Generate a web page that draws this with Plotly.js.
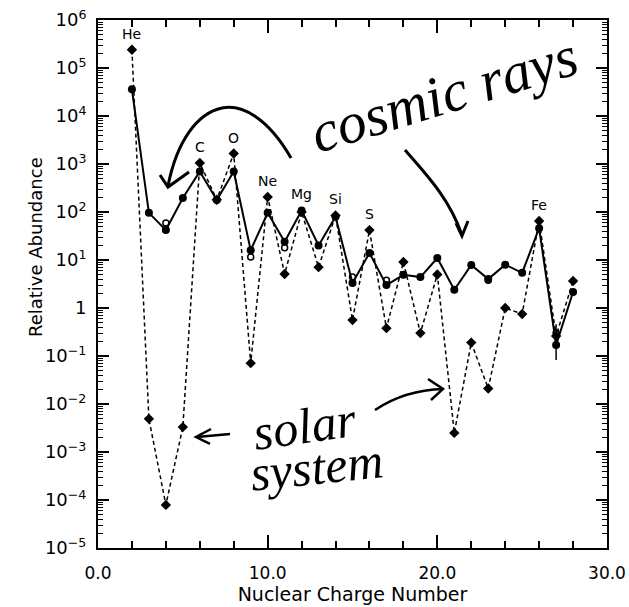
<!DOCTYPE html>
<html><head><meta charset="utf-8">
<script src="https://cdn.plot.ly/plotly-3.0.1.min.js"></script>
<style>html,body{margin:0;padding:0;background:#fff}</style>
</head><body>
<div id="chart" style="width:629px;height:607px"></div>
<script>
// ---- data ----
const charge      = [2,3,4,5,6,7,8,9,10,11,12,13,14,15,16,17,18,19,20,21,22,23,24,25,26,27,28];
const cosmicRays  = [3.6e4,96,42,195,700,178,700,16,96,24,108,20,80,3.3,14,3.0,4.9,4.4,11,2.4,7.9,4.0,8.0,5.4,46,0.17,2.15];
const solarSystem = [2.4e5,4.9e-3,7.9e-5,3.3e-3,1050,180,1650,0.071,206,5.1,100,7.1,85,0.56,42,0.38,9.1,0.30,5.0,2.5e-3,0.19,0.021,1.0,0.75,65,0.26,3.65];
const cosmicAltZ    = [4,9,11,15,17,23,27];
const cosmicAltVals = [59,11.5,18,4.4,3.8,3.8,0.3];
const errZ = [27], errVal = [0.17], errPlus = [0.29], errMinus = [0.087];
const elementNames = ['He','C','O','Ne','Mg','Si','S','Fe'];
const elementZ     = [2,6,8,10,12,14,16,26];
const yTickVals = [1e-5,1e-4,1e-3,1e-2,1e-1,1,1e1,1e2,1e3,1e4,1e5,1e6];
const yTickText = ['10<sup>−5</sup>','10<sup>−4</sup>','10<sup>−3</sup>','10<sup>−2</sup>','10<sup>−1</sup>','1',
                   '10<sup>1</sup>','10<sup>2</sup>','10<sup>3</sup>','10<sup>4</sup>','10<sup>5</sup>','10<sup>6</sup>'];
const xTickVals = [0,10,20,30];
const xTickText = ['0.0','10.0','20.0','30.0'];

// minor log ticks 2..9 per decade
const yMinor = [];
for (let e = -5; e < 6; e++) for (let m = 2; m <= 9; m++) yMinor.push(m * Math.pow(10, e));

// ---- geometry helpers for hand-drawn decorations (paper coords) ----
const W = 629, H = 607, PL = 98, PR = 607, PT = 20, PB = 548;
const px = x => (x - PL) / (PR - PL);
const py = y => (PB - y) / (PB - PT);
function path(str) {
  return str.replace(/(-?\d+\.?\d*),(-?\d+\.?\d*)/g, (m, a, b) => px(+a).toFixed(4) + ',' + py(+b).toFixed(4));
}
function pshape(str, w) {
  return {type:'path', xref:'paper', yref:'paper', path: path(str), line:{color:'black', width:w}, fillcolor:'rgba(0,0,0,0)'};
}

const font = 'DejaVu Sans, Liberation Sans, sans-serif';
const hand = 'Liberation Serif, serif';

const traces = [
  {x: charge, y: solarSystem, mode:'lines+markers', type:'scatter',
   line:{color:'black', width:1.5, dash:'4px,3px'},
   marker:{symbol:'diamond', size:8, color:'black'}, cliponaxis:false},
  {x: charge, y: cosmicRays, mode:'lines+markers', type:'scatter',
   line:{color:'black', width:2},
   marker:{symbol:'circle', size:8, color:'black'}, cliponaxis:false},
  {x: cosmicAltZ, y: cosmicAltVals, mode:'markers', type:'scatter',
   marker:{symbol:'circle-open', size:6, color:'black', line:{width:1.5}}},
  {x: errZ, y: errVal, mode:'markers', type:'scatter',
   marker:{size:1, color:'black'},
   error_y:{type:'data', symmetric:false, array:errPlus, arrayminus:errMinus, color:'black', thickness:1.5, width:0}}
];

const annotations = elementNames.map((name, i) => {
  const idx = charge.indexOf(elementZ[i]);
  const top = Math.max(cosmicRays[idx], solarSystem[idx]);
  return {x: elementZ[i], y: Math.log10(top), xref:'x', yref:'y', text:name, showarrow:false,
          yshift: 16, font:{family:font, size:14, color:'black'}};
});
annotations.push(
  {xref:'paper', yref:'paper', x:px(443), y:py(94), xanchor:'center', yanchor:'middle',
   text:'cosmic rays', showarrow:false, textangle:-17,
   font:{family:hand, size:58, style:'italic', color:'black'}},
  {xref:'paper', yref:'paper', x:px(304), y:py(426), xanchor:'center', yanchor:'middle',
   text:'solar', showarrow:false, textangle:-8,
   font:{family:hand, size:50, style:'italic', color:'black'}},
  {xref:'paper', yref:'paper', x:px(316), y:py(467), xanchor:'center', yanchor:'middle',
   text:'system', showarrow:false, textangle:-6,
   font:{family:hand, size:50, style:'italic', color:'black'}},
  {xref:'paper', yref:'paper', x:px(35), y:py(247), xanchor:'center', yanchor:'middle',
   text:'Relative Abundance', showarrow:false, textangle:-90,
   font:{family:font, size:18, color:'black'}}
);

const shapes = [
  pshape('M291,158 C268,118 242,104 222,108 C198,113 177,140 168,186', 3),
  pshape('M160,175 L168,187 L189,172', 3),
  pshape('M405,150 C428,176 450,200 462,235', 3),
  pshape('M456,223 L462,236 L468,221', 3),
  pshape('M375,410 Q405,390 443,389', 2.5),
  pshape('M428,379 L443,389 L431,400', 2.5),
  pshape('M230,434 L197,437', 2.5),
  pshape('M211,429 L196,437 L210,444', 2.5)
];

const layout = {
  width: W, height: H,
  margin: {l: PL, r: W - PR, t: PT, b: H - PB},
  paper_bgcolor: 'white', plot_bgcolor: 'white',
  showlegend: false,
  font: {family: font, color: 'black'},
  xaxis: {
    range: [0, 30], tickmode:'array', tickvals: xTickVals, ticktext: xTickText,
    ticks:'inside', ticklen: 13, tickwidth: 1.5, tickcolor:'black', ticklabelstandoff: 9,
    minor: {dtick: 2, tick0: 0, ticks:'inside', ticklen: 7, tickwidth: 1.5, tickcolor:'black'},
    showline: true, linecolor:'black', linewidth: 2, mirror:'allticks',
    showgrid: false, zeroline: false,
    tickfont: {family: font, size: 17, color:'black'},
    title: {text:'Nuclear Charge Number', font:{family: font, size: 19, color:'black'}, standoff: 3}
  },
  yaxis: {
    type:'log', range: [-5, 6], tickmode:'array', tickvals: yTickVals, ticktext: yTickText,
    ticks:'inside', ticklen: 11, tickwidth: 1.5, tickcolor:'black', ticklabelstandoff: 6,
    minor: {tickmode:'array', tickvals: yMinor, ticks:'inside', ticklen: 5, tickwidth: 1, tickcolor:'black'},
    showline: true, linecolor:'black', linewidth: 2, mirror:'allticks',
    showgrid: false, zeroline: false,
    tickfont: {family: font, size: 18, color:'black'}
  },
  annotations: annotations,
  shapes: shapes
};

Plotly.newPlot('chart', traces, layout, {displayModeBar:false});
</script>
</body></html>
